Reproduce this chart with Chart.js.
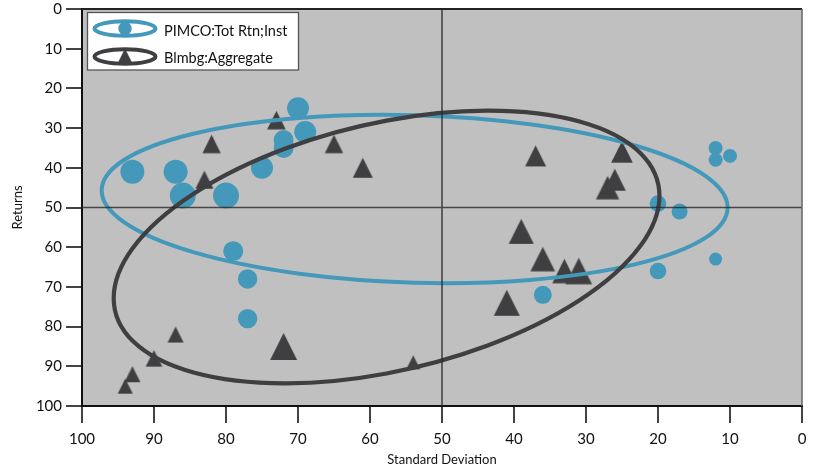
<!DOCTYPE html>
<html><head><meta charset="utf-8">
<script src="https://cdn.jsdelivr.net/npm/chart.js@4.4.1/dist/chart.umd.min.js"></script>
<style>html,body{margin:0;padding:0;background:#fff;}#wrap{width:820px;height:471px;position:relative;}</style>
</head><body><div id="wrap"><canvas id="c" width="820" height="471"></canvas></div>
<script>
// ---- data ----
const seriesNames = ['PIMCO:Tot Rtn;Inst', 'Blmbg:Aggregate'];
const axisTicks = [0, 10, 20, 30, 40, 50, 60, 70, 80, 90, 100];
const xTitle = 'Standard Deviation';
const yTitle = 'Returns';

const pimcoStdDev  = [93, 87, 86, 80, 75, 72, 72, 70, 69, 79, 77, 77, 36, 20, 17, 20, 12, 12, 10, 12];
const pimcoReturns = [41, 41, 47, 47, 40, 33, 35, 25, 31, 61, 68, 78, 72, 49, 51, 66, 35, 38, 37, 63];
const pimcoMarker  = [12, 12, 13, 13, 11, 10, 10, 11, 11, 10, 9.7, 9.7, 9, 8.3, 8, 8.3, 7, 7, 7, 6.5];

const aggStdDev  = [94, 93, 90, 87, 83, 82, 73, 65, 61, 72, 54, 41, 39, 37, 36, 33, 31, 27, 26, 25];
const aggReturns = [95, 92, 88, 82, 43, 34, 28, 34, 40, 85, 89, 74, 56, 37, 63, 66, 66, 45, 43, 36];
const aggMarker  = [15, 16, 16.7, 16, 18, 18.3, 18.7, 18.3, 20, 27, 14, 26, 25, 21, 24.7, 24.3, 26.7, 23.3, 22, 21.7];

// ellipses in data units: centre + A*cos(t) + B*sin(t)
const pimcoEllipse = {cx: 53.8, cy: 47.85, ax: -43.47, ay: 2.14, bx: 0, by: 21.09};
const aggEllipse   = {cx: 57.7, cy: 59.96, ax: -37.9, ay: -12.87, bx: 0, by: 31.84};
const refX = 50, refY = 50;

// ---- styles ----
const BLUE = '#4499ba';
const DARK = '#3f3f41';
const FONT = 'Lato, "Open Sans", sans-serif';

const triCache = {};
function triangleImage(s) {
  const key = s.toFixed(1);
  if (triCache[key]) return triCache[key];
  const w = Math.ceil(s) + 2;
  const c = document.createElement('canvas');
  c.width = w; c.height = w;
  const g = c.getContext('2d');
  const o = (w - s) / 2;
  g.fillStyle = DARK;
  g.beginPath();
  g.moveTo(w / 2, o);
  g.lineTo(o + s, o + s);
  g.lineTo(o, o + s);
  g.closePath();
  g.fill();
  triCache[key] = c;
  return c;
}

function ellipsePath(ctx, chart, e) {
  const xs = chart.scales.x, ys = chart.scales.y;
  const cx = xs.getPixelForValue(e.cx), cy = ys.getPixelForValue(e.cy);
  const ax = xs.getPixelForValue(e.cx + e.ax) - cx, ay = ys.getPixelForValue(e.cy + e.ay) - cy;
  const bx = xs.getPixelForValue(e.cx + e.bx) - cx, by = ys.getPixelForValue(e.cy + e.by) - cy;
  ctx.save();
  ctx.transform(ax, ay, bx, by, cx, cy);
  ctx.beginPath();
  ctx.arc(0, 0, 1, 0, Math.PI * 2);
  ctx.restore();
}

const decor = {
  id: 'decor',
  beforeDraw(chart) {
    const a = chart.chartArea, ctx = chart.ctx;
    ctx.save();
    ctx.fillStyle = '#fff';
    ctx.fillRect(0, 0, chart.width, chart.height);
    ctx.fillStyle = '#c0c0c0';
    ctx.fillRect(a.left, a.top, a.right - a.left, a.bottom - a.top);
    ctx.restore();
  },
  afterDatasetsDraw(chart) {
    const a = chart.chartArea, ctx = chart.ctx;
    ctx.save();
    ctx.beginPath();
    ctx.rect(a.left, a.top, a.right - a.left, a.bottom - a.top);
    ctx.clip();
    ctx.lineWidth = 4;
    ctx.strokeStyle = BLUE;
    ellipsePath(ctx, chart, pimcoEllipse);
    ctx.stroke();
    ctx.lineWidth = 4.2;
    ctx.strokeStyle = DARK;
    ellipsePath(ctx, chart, aggEllipse);
    ctx.stroke();
    // reference cross
    const px = chart.scales.x.getPixelForValue(refX);
    const py = chart.scales.y.getPixelForValue(refY);
    ctx.strokeStyle = 'rgba(40,40,40,0.8)';
    ctx.lineWidth = 1.6;
    ctx.beginPath();
    ctx.moveTo(px, a.top); ctx.lineTo(px, a.bottom);
    ctx.moveTo(a.left, py); ctx.lineTo(a.right, py);
    ctx.stroke();
    ctx.restore();
  },
  afterDraw(chart) {
    const a = chart.chartArea, ctx = chart.ctx;
    ctx.save();
    // top and right frame
    ctx.strokeStyle = '#222';
    ctx.lineWidth = 2;
    ctx.beginPath();
    ctx.moveTo(a.left, a.top); ctx.lineTo(a.right, a.top);
    ctx.stroke();
    ctx.strokeStyle = '#666';
    ctx.lineWidth = 1.5;
    ctx.beginPath();
    ctx.moveTo(a.right, a.top); ctx.lineTo(a.right, a.bottom);
    ctx.stroke();
    // legend
    const lx = a.left + 5.5, ly = a.top + 3.5, lw = 211, lh = 57.5;
    ctx.fillStyle = '#fff';
    ctx.fillRect(lx, ly, lw, lh);
    ctx.strokeStyle = '#555';
    ctx.lineWidth = 1.3;
    ctx.strokeRect(lx, ly, lw, lh);
    const icx = lx + 37.5;
    const rows = [ly + 16, ly + 44];
    // row 1
    ctx.lineWidth = 4;
    ctx.strokeStyle = BLUE;
    ctx.beginPath(); ctx.ellipse(icx, rows[0], 30.5, 7.3, 0, 0, Math.PI * 2); ctx.stroke();
    ctx.fillStyle = BLUE;
    ctx.beginPath(); ctx.arc(icx, rows[0], 6.7, 0, Math.PI * 2); ctx.fill();
    // row 2
    ctx.strokeStyle = DARK;
    ctx.beginPath(); ctx.ellipse(icx, rows[1], 30.5, 7.3, 0, 0, Math.PI * 2); ctx.stroke();
    ctx.drawImage(triangleImage(14), icx - 8, rows[1] - 9);
    ctx.fillStyle = '#111';
    ctx.font = '14.5px ' + FONT;
    ctx.textBaseline = 'alphabetic';
    ctx.textAlign = 'left';
    ctx.fillText(seriesNames[0], lx + 76.5, rows[0] + 7.5);
    ctx.fillText(seriesNames[1], lx + 76.5, rows[1] + 6);
    ctx.restore();
  }
};

const tickFont = {family: FONT, size: 15};
function makeScale(isX) {
  return {
    type: 'linear',
    position: isX ? 'bottom' : 'left',
    reverse: true,
    min: 0,
    max: 100,
    afterBuildTicks: s => { s.ticks = axisTicks.map(v => ({value: v})); },
    afterFit: s => {
      if (isX) { s.height = 65; s.paddingLeft = 0; s.paddingRight = 0; }
      else { s.width = 82; s.paddingTop = 0; s.paddingBottom = 0; }
    },
    ticks: {font: tickFont, color: '#111', padding: isX ? 7 : 4, maxRotation: 0, autoSkip: false},
    grid: {drawOnChartArea: false, drawTicks: true, tickLength: isX ? 17 : 16, color: '#444', lineWidth: 2},
    border: {display: true, color: '#111', width: 2},
    title: {display: true, text: isX ? xTitle : yTitle, color: '#111',
            font: {family: FONT, size: 13},
            padding: isX ? {top: 0, bottom: 3} : {top: 10, bottom: 0}}
  };
}

new Chart(document.getElementById('c'), {
  type: 'scatter',
  data: {
    datasets: [
      {
        label: seriesNames[0],
        data: pimcoStdDev.map((x, i) => ({x: x, y: pimcoReturns[i]})),
        pointStyle: 'circle',
        pointRadius: c => pimcoMarker[c.dataIndex] || 8,
        backgroundColor: BLUE,
        borderWidth: 0,
        pointBorderWidth: 0
      },
      {
        label: seriesNames[1],
        data: aggStdDev.map((x, i) => ({x: x, y: aggReturns[i]})),
        pointStyle: c => triangleImage(aggMarker[c.dataIndex] || 16),
        pointRadius: c => (aggMarker[c.dataIndex] || 16) / 2,
        backgroundColor: DARK,
        borderWidth: 0
      }
    ]
  },
  options: {
    responsive: false,
    animation: false,
    events: [],
    layout: {autoPadding: false, padding: {top: 9, right: 18, left: 0, bottom: 0}},
    plugins: {legend: {display: false}, tooltip: {enabled: false}},
    scales: {x: makeScale(true), y: makeScale(false)}
  },
  plugins: [decor]
});
</script>
</body></html>
